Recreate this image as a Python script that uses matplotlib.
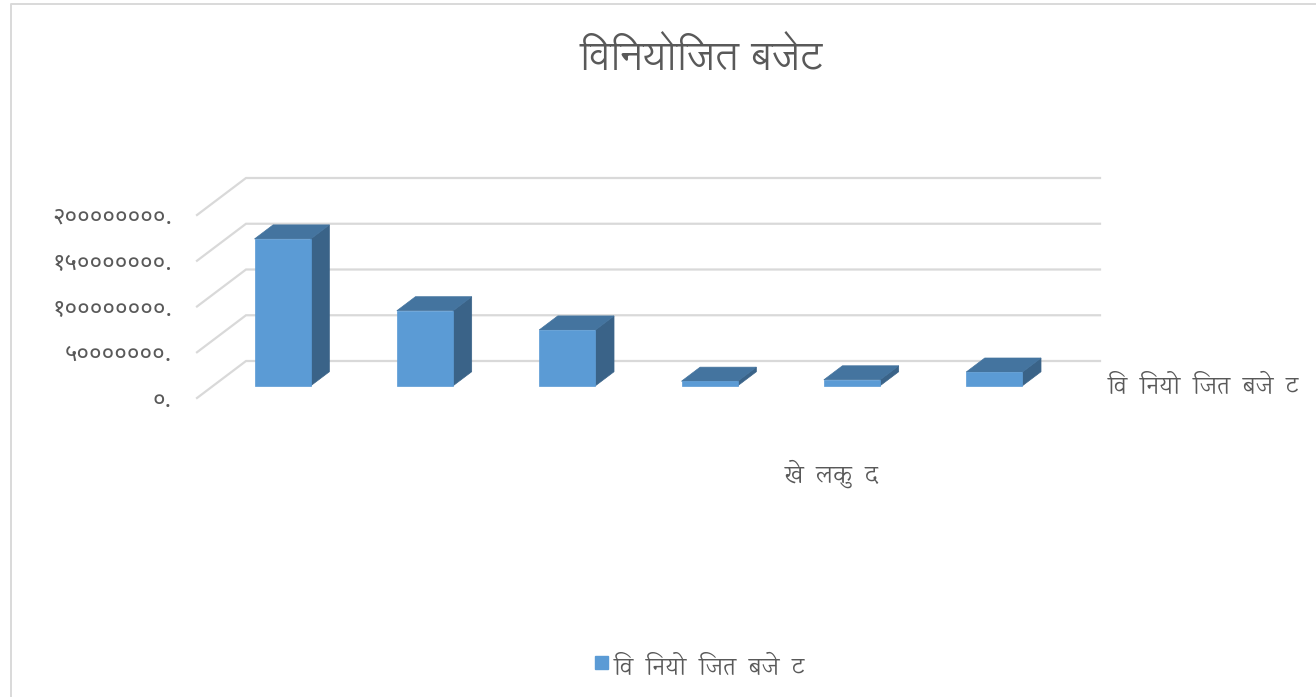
import re

import matplotlib
matplotlib.use('Agg')
from matplotlib import pyplot as plt
from matplotlib.legend_handler import HandlerPatch
from matplotlib.lines import Line2D
from matplotlib.patches import Patch

# data
title = 'विनियोजित बजेट'
series_name = 'वि  नियो  जित  बजे  ट'
category_name = 'खे  लकु  द'
values = [160500000, 82000000, 61000000, 5000000, 6500000, 15000000]
ticks = [0, 50000000, 100000000, 150000000, 200000000]
tick_labels = ['०.', '५०००००००.', '१००००००००.', '१५०००००००.', '२००००००००.']

W, H = 1316, 697
GRID = '#D9D9D9'
TEXT = '#595959'
FONT = 'Karma'


# matplotlib has no text shaping, the i matra has to come before its consonant
def visual(s):
    return re.sub('(.)ि', 'ि\\1', s)


fig = plt.figure(figsize=(W / 100, H / 100), dpi=100)
ax = fig.add_axes([197 / W, (H - 398) / H, (1100 - 197) / W, 220 / H])
px_val = 50000000 / 45.75
ax.set_xlim(-0.5, -0.5 + (1100 - 197) / 142.33)
ax.set_ylim(0, 220 * px_val)

# oblique projection, depth 1 = back wall
dx = 49 / 142.33
dy = 37 * px_val
x_back_end = -0.5 + (1100 - 197) / 142.33

for t in ticks:
    ax.plot([-0.5, -0.5 + dx, x_back_end], [t, t + dy, t + dy], color=GRID, lw=1.6,
            clip_on=False, zorder=1, solid_joinstyle='miter')

bar_w = 0.395
d0, d1 = 0.33, 0.71
for i, v in enumerate(values):
    x0 = i - 0.012 - bar_w / 2 + d0 * dx
    x1 = x0 + bar_w
    base = d0 * dy
    sx = (d1 - d0) * dx
    sy = (d1 - d0) * dy
    ax.fill([x1, x1 + sx, x1 + sx, x1], [base, base + sy, base + v + sy, base + v],
            color='#3A6388', lw=0.5, zorder=3)
    ax.fill([x0, x1, x1 + sx, x0 + sx], [base + v, base + v, base + v + sy, base + v + sy],
            color='#44749F', lw=0.5, zorder=3)
    ax.fill([x0, x1, x1, x0], [base, base, base + v, base + v],
            color='#5B9BD5', lw=0.5, zorder=4)

ax.set_xticks([])
ax.set_yticks(ticks)
ax.set_yticklabels(tick_labels, family='Noto Sans Devanagari', fontsize=17.3, color=TEXT)
ax.tick_params(axis='y', length=0, pad=18)
for s in ax.spines.values():
    s.set_visible(False)
ax.patch.set_alpha(0)

fig.text(701 / W, 1 - 51 / H, visual(title), family='Lohit Devanagari', fontsize=28.5, color=TEXT,
         ha='center', va='center')
fig.text(832 / W, 1 - 474 / H, category_name, family=FONT, fontsize=18, color=TEXT,
         ha='center', va='center')
fig.text(1203 / W, 1 - 386 / H, visual(series_name), family=FONT, fontsize=17.3, color=TEXT,
         ha='center', va='center')

leg = fig.legend(handles=[Patch(color='#5B9BD5', label=visual(series_name))],
                 handler_map={Patch: HandlerPatch(ypad=0.2)},
                 loc='center', bbox_to_anchor=(700 / W, 1 - 667 / H), frameon=False,
                 prop={'family': FONT, 'size': 17.3}, labelcolor=TEXT,
                 handlelength=0.54, handleheight=0.74, handletextpad=0.25)

# chart area border, the rest is cut off in the picture
fig.add_artist(Line2D([11 / W, 11 / W, 1], [0, 1 - 4 / H, 1 - 4 / H], color=GRID, lw=1.4,
                      transform=fig.transFigure))

fig.savefig('out.png', dpi=100)
